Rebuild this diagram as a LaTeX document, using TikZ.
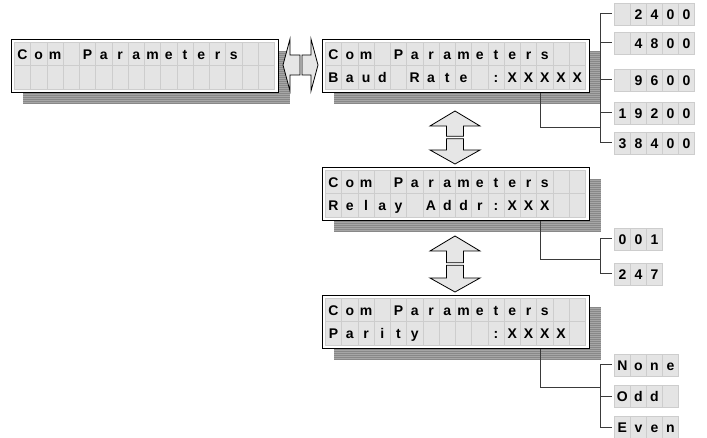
\documentclass[tikz,border=0pt]{standalone}
\usepackage{fontspec}
\setmainfont{Liberation Sans}
\newfontfamily\lcdfont{Liberation Sans Bold}
\definecolor{cellfill}{HTML}{E4E4E4}
\definecolor{cellline}{HTML}{CDCDCD}
\definecolor{shadowfill}{HTML}{A6A6A6}
\definecolor{shadowline}{HTML}{888888}
\definecolor{arrowfill}{HTML}{E6E6E6}
\definecolor{wire}{HTML}{3A3A3A}
\tikzset{
  cell/.style={draw=cellline, fill=cellfill, line width=0.8pt, inner sep=0pt,
    minimum width=16.25pt, minimum height=23.5pt, anchor=north west,
    font=\lcdfont\fontsize{14}{14}\selectfont, text height=10pt, text depth=0pt},
  vcell/.style={cell, minimum width=16pt, minimum height=22pt},
  lcdframe/.style={draw=black, fill=white, line width=0.9pt, inner sep=0pt,
    minimum width=267pt, minimum height=53pt, anchor=north west},
  blockarrow/.style={draw=black, fill=arrowfill, line width=0.8pt, line join=miter},
  wireline/.style={draw=wire, line width=1pt},
}
% #1 name, #2 x, #3 y top, #4 row 1, #5 row 2
\newcommand{\lcdpanel}[5]{%
  \begin{scope}
    \clip (#2+12,#3+12) rectangle ++(267,53);
    \fill[shadowfill] (#2+12,#3+12) rectangle ++(267,53);
    \foreach \k in {0,2,...,52} \draw[shadowline, line width=0.8pt] (#2+12,#3+12+\k) -- ++(267,0);
  \end{scope}
  \node[lcdframe] (#1) at (#2,#3) {};
  \foreach \cellchar [count=\i from 0] in {#4} \node[cell] (#1-a\i) at (#2+3+\i*16.25,#3+3) {\cellchar};
  \foreach \cellchar [count=\i from 0] in {#5} \node[cell] (#1-b\i) at (#2+3+\i*16.25,#3+26.5) {\cellchar};
}
% #1 name, #2 x left, #3 y centre, #4 list
\newcommand{\valbox}[4]{%
  \foreach \cellchar [count=\i from 0] in {#4} \node[vcell] (#1-\i) at (#2+\i*16,#3-11) {\cellchar};
  \coordinate (#1) at (#2-2,#3);
}
% vertical double arrow: #1 top, #2 bottom
\newcommand{\vdarrow}[2]{%
  \pgfmathsetmacro{\midy}{(#1+#2)/2}
  \draw[blockarrow] (455,#1) -- (480,#1+15) -- (463.5,#1+15) -- (463.5,\midy-1.2)
     -- (446.5,\midy-1.2) -- (446.5,#1+15) -- (430,#1+15) -- cycle;
  \draw[blockarrow] (455,#2) -- (480,#2-14) -- (463.5,#2-14) -- (463.5,\midy+1.2)
     -- (446.5,\midy+1.2) -- (446.5,#2-14) -- (430,#2-14) -- cycle;
}
\begin{document}
\begin{tikzpicture}[x=1pt,y=-1pt]
\fill[white] (0,0) rectangle (707,438);
\useasboundingbox (0,0) rectangle (707,438);

% displays
\lcdpanel{d0}{11}{39}{C,o,m,{},P,a,r,a,m,e,t,e,r,s,{},{}}{{},{},{},{},{},{},{},{},{},{},{},{},{},{},{},{}}
\lcdpanel{d1}{322}{39}{C,o,m,{},P,a,r,a,m,e,t,e,r,s,{},{}}{B,a,u,d,{},R,a,t,e,{},:,X,X,X,X,X}
\lcdpanel{d2}{322}{167}{C,o,m,{},P,a,r,a,m,e,t,e,r,s,{},{}}{R,e,l,a,y,{},A,d,d,r,:,X,X,X,{},{}}
\lcdpanel{d3}{322}{295}{C,o,m,{},P,a,r,a,m,e,t,e,r,s,{},{}}{P,a,r,i,t,y,{},{},{},{},:,X,X,X,X,{}}

% horizontal double arrow
\draw[blockarrow] (283,65) -- (290,39) -- (290,55) -- (300,55) -- (300,75) -- (290,75) -- (290,91) -- cycle;
\draw[blockarrow] (318,65) -- (311,39) -- (311,55) -- (302,55) -- (302,75) -- (311,75) -- (311,91) -- cycle;

% vertical double arrows
\vdarrow{111}{164}
\vdarrow{236}{292}

% value boxes
\valbox{b2400}{614}{14}{{},2,4,0,0}
\valbox{b4800}{614}{43}{{},4,8,0,0}
\valbox{b9600}{614}{80}{{},9,6,0,0}
\valbox{b19200}{614}{113}{1,9,2,0,0}
\valbox{b38400}{614}{143}{3,8,4,0,0}
\valbox{a001}{614}{239}{0,0,1}
\valbox{a247}{614}{274}{2,4,7}
\valbox{pnone}{614}{365}{N,o,n,e}
\valbox{podd}{614}{396}{O,d,d,{}}
\valbox{peven}{614}{427}{E,v,e,n}

% connectors
\coordinate (j1) at (540,128);
\coordinate (t1) at (600,128);
\draw[wireline] (d1.south -| j1) -- (j1) -- (t1);
\draw[wireline] (t1 |- b2400) -- (t1 |- b38400);
\foreach \v in {b2400,b4800,b9600,b19200,b38400} \draw[wireline] (t1 |- \v) -- (\v);

\coordinate (j2) at (540,260);
\coordinate (t2) at (600,260);
\draw[wireline] (d2.south -| j2) -- (j2) -- (t2);
\draw[wireline] (t2 |- a001) -- (t2 |- a247);
\foreach \v in {a001,a247} \draw[wireline] (t2 |- \v) -- (\v);

\coordinate (j3) at (540,387);
\coordinate (t3) at (600,387);
\draw[wireline] (d3.south -| j3) -- (j3) -- (t3);
\draw[wireline] (t3 |- pnone) -- (t3 |- peven);
\foreach \v in {pnone,podd,peven} \draw[wireline] (t3 |- \v) -- (\v);
\end{tikzpicture}
\end{document}
